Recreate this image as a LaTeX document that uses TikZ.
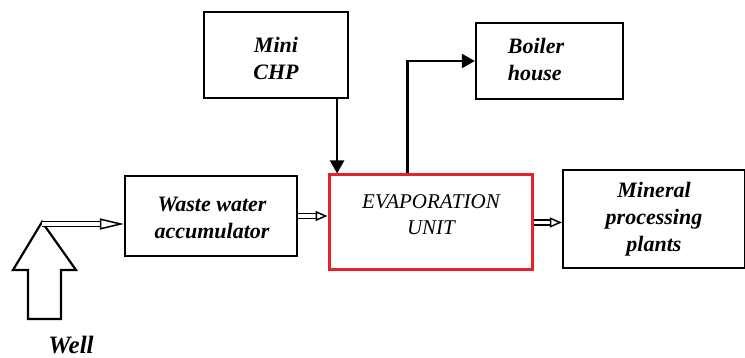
\documentclass[tikz,border=0pt]{standalone}
\usepackage{fontspec}
\setmainfont{Liberation Serif}
\usepackage{xcolor}
\usepackage{tikz}
\usetikzlibrary{arrows.meta,positioning,calc}

\definecolor{evapred}{HTML}{E8202A}

\tikzset{
    box/.style={draw, line width=2.2pt, inner sep=0pt},
    lbl/.style={font=\fontsize{22}{27}\selectfont\bfseries\itshape, align=center, inner sep=0pt},
    flow/.style={line width=2.2pt, -{Triangle[length=13pt,width=14pt]}},
    dflow/.style={double, double distance=3.4pt, line width=1.5pt, -{Triangle[open, length=12pt, width=10pt]}}
}

\begin{document}
\begin{tikzpicture}[x=1pt,y=-1pt]
            \useasboundingbox (0,0) rectangle (745,358);
            % boxes
            \node[box, minimum width=144pt, minimum height=86pt] (chp) at (276,55) {};
            \node[box, minimum width=147pt, minimum height=76pt] (boiler) at (549.5,61) {};
            \node[box, minimum width=172pt, minimum height=80pt] (acc) at (211,216) {};
            \node[box, draw=evapred, line width=3pt, minimum width=203pt, minimum height=95pt] (evap) at (430.5,222.5) {};
            \node[box, minimum width=182pt, minimum height=98pt] (mineral) at (654,219) {};
            % texts of the boxes
            \node[lbl] (chp text) at (276,58) {Mini\\CHP};
            \node[lbl, align=left] (boiler text) at (536,59) {Boiler\\ house};
            \node[lbl] (acc text) at (212,218) {Waste water\\accumulator};
            \node[lbl, font=\fontsize{21}{26}\selectfont\itshape] (evap text) at (431,215) {EVAPORATION\\UNIT};
            \node[lbl] (mineral text) at (654,219) {Mineral\\processing\\plants};
            % well: big open arrow pointing up
            \draw[line width=2.2pt, line join=miter] (42,222) -- (13,270) -- (28,270) -- (28,319)
                -- (61,319) -- (61,270) -- (76,270) -- cycle;
            \coordinate (well tip) at (42,224);
            \node[lbl, font=\fontsize{25}{30}\selectfont\bfseries\itshape] (well) at (71,345) {Well};
            % double line arrows
            \draw[dflow, -{Triangle[open, length=24pt, width=11pt]}] (well tip) -- (well tip -| acc.west);
            \draw[dflow] (acc.east) -- (acc.east -| evap.west);
            \draw[dflow] (evap.east) -- (evap.east -| mineral.west);
            % solid arrows
            \draw[flow] ([xshift=-12pt]chp.south east) -- ([xshift=-12pt]chp.south east |- evap.north);
            \draw[flow] ([xshift=-23pt]evap.north) |- (boiler.west);
        \end{tikzpicture}
\end{document}
